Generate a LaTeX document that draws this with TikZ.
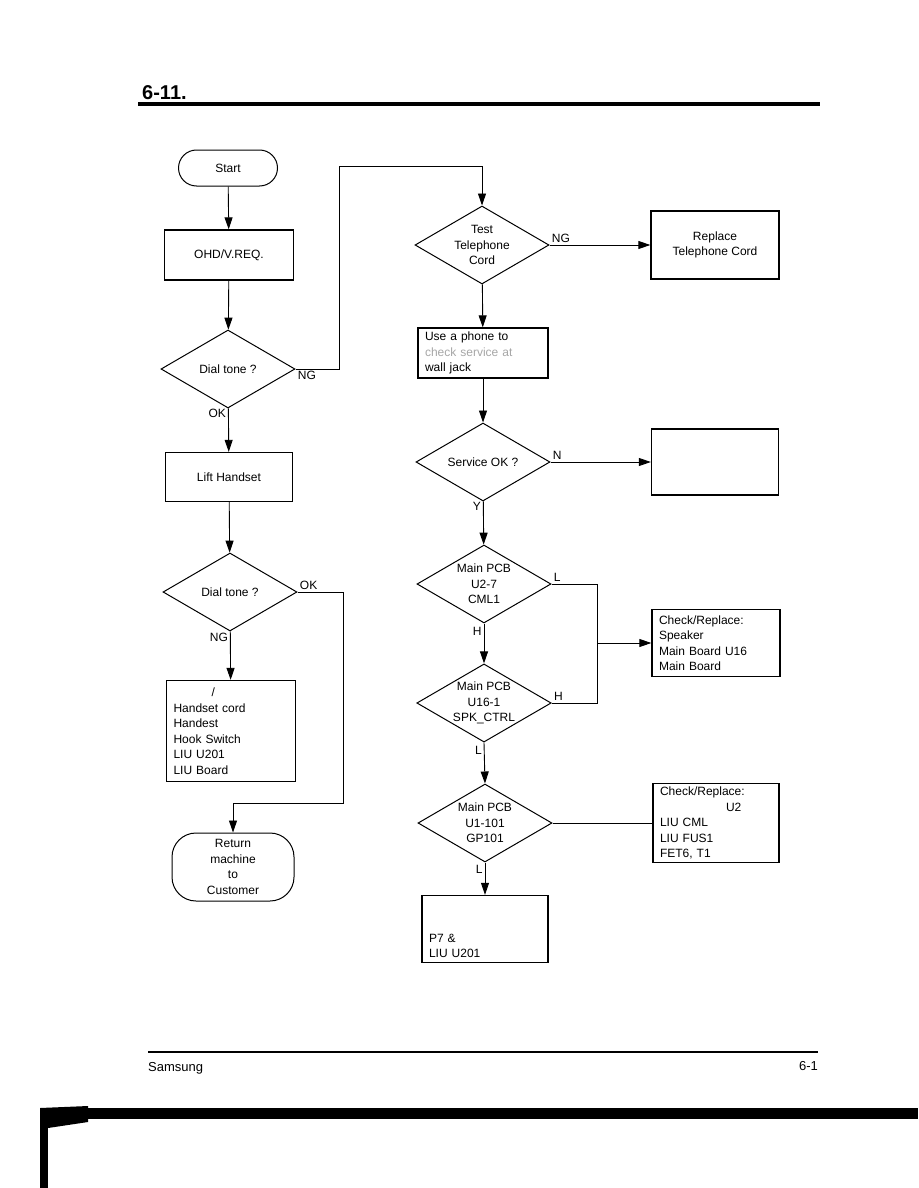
\documentclass[tikz,border=0pt]{standalone}
\usepackage{fontspec}
\setmainfont{Liberation Sans}
\usetikzlibrary{shapes.geometric,arrows.meta,positioning}

\begin{document}
\begin{tikzpicture}[x=1pt, y=-1pt,
	every node/.style={font=\fontsize{12}{15.5}\selectfont},
	terminal/.style={draw, line width=1pt, rectangle, rounded corners=18pt, align=center, inner sep=0pt},
	process/.style={draw, line width=1.3pt, rectangle, align=center, inner sep=0pt},
	listbox/.style={draw, line width=1.3pt, rectangle, align=left, inner xsep=7pt, inner ysep=0pt},
	decision/.style={draw, line width=1pt, diamond, aspect=1.72, inner sep=0pt, align=center, minimum width=134pt, minimum height=78pt},
	line/.style={draw, line width=0.9pt},
	arrow/.style={line, -{Triangle[length=12pt, width=8pt]}},
	tag/.style={inner sep=2pt}]
	\useasboundingbox (0,0) rectangle (918,1188);

	% header and footer
	\node[anchor=south west, inner sep=0pt, font=\bfseries\fontsize{20}{22}\selectfont] (title) at (142,100) {6-11.};
	\draw[line width=4pt] (138,104) -- (820,104);
	\draw[line width=2pt] (148,1052) -- (818,1052);
	\node[anchor=west, inner sep=0pt, font=\fontsize{13}{15}\selectfont] (maker) at (148,1068) {Samsung};
	\node[anchor=east, inner sep=0pt, font=\fontsize{13}{15}\selectfont] (page) at (818,1066) {6-1};
	\fill (40,1108) rectangle (918,1119);
	\fill (40,1108) rectangle (48,1188);
	\fill (40,1108) -- (88,1106) -- (88,1122) -- (48,1128) -- cycle;

	% left column
	\node[terminal, minimum width=99pt, minimum height=36pt] (start) at (228,168) {Start};
	\node[process, minimum width=129pt, minimum height=50pt] (ohd) at (229,255) {OHD/V.REQ.};
	\node[decision] (dial1) at (228,369) {Dial tone ?};
	\node[process, minimum width=127pt, minimum height=49pt] (lift) at (229,477) {Lift Handset};
	\node[decision] (dial2) at (230,592) {Dial tone ?};
	\node[listbox, text width=115pt, minimum height=101pt] (handset) at (231,731)
		{\phantom{Check }/\\Handset cord\\Handest\\Hook Switch\\LIU U201\\LIU Board};
	\node[terminal, rounded corners=24pt, minimum width=122pt, minimum height=68pt] (ret) at (233,867)
		{Return\\machine\\to\\Customer};

	% right column
	\node[decision] (cord) at (482,245) {Test\\Telephone\\Cord};
	\node[process, minimum width=128pt, minimum height=68pt] (replace) at (715,245) {Replace\\Telephone Cord};
	\node[listbox, text width=116pt, minimum height=50pt] (wall) at (483,353)
		{Use a phone to\\{\color{black!35}check service at}\\wall jack};
	\node[decision] (service) at (483,462) {Service OK ?};
	\node[process, minimum width=127pt, minimum height=66pt] (blank) at (715,462) {};
	\node[decision] (cml) at (484,584) {Main PCB\\U2-7\\CML1};
	\node[decision] (spk) at (484,703) {Main PCB\\U16-1\\SPK\_CTRL};
	\node[listbox, text width=114pt, minimum height=67pt] (speaker) at (716,643)
		{Check/Replace:\\Speaker\\Main Board U16\\Main Board};
	\node[decision] (gp) at (485,823) {Main PCB\\U1-101\\GP101};
	\node[listbox, text width=112pt, minimum height=79pt] (liu) at (716,823)
		{Check/Replace:\\\phantom{Main Board }U2\\LIU CML\\LIU FUS1\\FET6, T1};
	\node[listbox, text width=112pt, minimum height=67pt] (last) at (485,929)
		{\strut\\\strut\\P7 \&\\LIU U201};

	\coordinate (upng) at (339,166);
	\coordinate (downok) at (343,803);
	\coordinate (bus) at (597,643);

	% connectors, left
	\draw[arrow] (start) -- (ohd);
	\draw[arrow] (ohd) -- (dial1);
	\draw[arrow] (dial1) -- node[tag, left, pos=0.12] {OK} (lift);
	\draw[arrow] (dial1.east) node[tag, below right] {NG} -| (upng) -| (cord.north);
	\draw[arrow] (lift) -- (dial2);
	\draw[arrow] (dial2) -- node[tag, left, pos=0.12] {NG} (handset);
	\draw[arrow] (dial2.east) node[tag, above right] {OK} -| (downok) -| (ret.north);

	% connectors, right
	\draw[arrow] (cord.east) node[tag, above right] {NG} -- (replace.west);
	\draw[arrow] (cord) -- (wall);
	\draw[arrow] (wall) -- (service);
	\draw[arrow] (service.east) node[tag, above right] {N} -- (blank.west);
	\draw[arrow] (service) -- node[tag, left, pos=0.12] {Y} (cml);
	\draw[arrow] (cml) -- node[tag, left, pos=0.2] {H} (spk);
	\draw[line] (cml.east) node[tag, above right] {L} -| (bus);
	\draw[line] (spk.east) node[tag, above right] {H} -| (bus);
	\draw[arrow] (bus) -- (speaker.west);
	\draw[arrow] (spk.south) -- node[tag, left, pos=0.2] {L} (gp.north);
	\draw[line] (gp.east) -- (liu.west);
	\draw[arrow] (gp) -- node[tag, left, pos=0.2] {L} (last);
\end{tikzpicture}
\end{document}
